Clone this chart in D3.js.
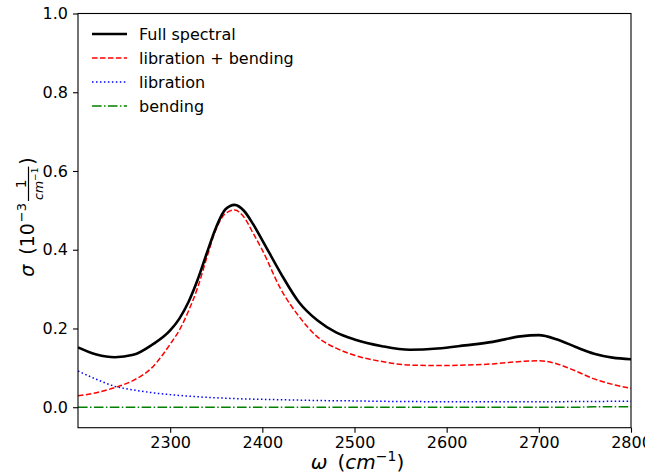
<!DOCTYPE html>
<html><head><meta charset="utf-8">
<script src="https://cdn.jsdelivr.net/npm/d3@7"></script>
<style>
body{margin:0;background:#fff;}
svg{display:block;font-family:"DejaVu Sans",sans-serif;}
</style></head>
<body>
<svg id="chart" width="645" height="475"></svg>
<script>
const omega = [2200,2220,2240,2260,2280,2300,2310,2320,2330,2340,2350,2360,2370,2380,2390,2400,2420,2440,2460,2480,2500,2530,2560,2590,2620,2650,2680,2700,2720,2740,2760,2780,2800];
const fullSpectral = [0.152,0.134,0.127,0.133,0.158,0.195,0.225,0.268,0.325,0.393,0.458,0.503,0.514,0.499,0.465,0.424,0.340,0.266,0.220,0.190,0.172,0.155,0.146,0.149,0.157,0.166,0.180,0.183,0.172,0.153,0.136,0.126,0.122];
const librationBending = [0.029,0.037,0.050,0.068,0.100,0.160,0.196,0.245,0.305,0.382,0.453,0.492,0.501,0.483,0.442,0.399,0.300,0.230,0.178,0.150,0.132,0.116,0.107,0.106,0.107,0.110,0.116,0.118,0.110,0.092,0.072,0.058,0.048];
const libration = [0.092,0.071,0.053,0.044,0.037,0.032,0.030,0.028,0.0265,0.025,0.024,0.023,0.022,0.021,0.0205,0.020,0.019,0.018,0.017,0.0165,0.016,0.015,0.0145,0.014,0.014,0.014,0.014,0.014,0.014,0.0145,0.0145,0.015,0.015];
const bending = [0,0,0,0,0,0,0,0,0,0,0,0,0,0,0,0,0,0,0,0,0,0,0,0,0,0,0,0,0,0,0.001,0.001,0.001];
const xTicks = [2300,2400,2500,2600,2700,2800];
const yTicks = [0.0,0.2,0.4,0.6,0.8,1.0];
const seriesNames = ["Full spectral","libration + bending","libration","bending"];

const svg = d3.select("#chart");
const L=78, R=631, T=13.5, B=427.7;
const x = d3.scaleLinear().domain([2200,2800]).range([L,R]);
const y = d3.scaleLinear().domain([-0.052,1.0]).range([B,T]);

const styles = [
  {color:"#000000", width:2.6, dash:null},
  {color:"#ff0000", width:1.5, dash:"5.55,2.4"},
  {color:"#0000ff", width:1.5, dash:"1.5,2.475"},
  {color:"#008000", width:1.5, dash:"9.6,2.4,1.5,2.4"}
];
const seriesData = [fullSpectral, librationBending, libration, bending];

svg.append("defs").append("clipPath").attr("id","clip")
  .append("rect").attr("x",L).attr("y",T).attr("width",R-L).attr("height",B-T);

const line = d3.line().x(d=>x(d[0])).y(d=>y(d[1])).curve(d3.curveMonotoneX);
const g = svg.append("g").attr("clip-path","url(#clip)");
[3,2,1,0].forEach(i=>{
  g.append("path").datum(omega.map((w,j)=>[w,seriesData[i][j]]))
    .attr("d",line).attr("fill","none")
    .attr("stroke",styles[i].color).attr("stroke-width",styles[i].width)
    .attr("stroke-dasharray",styles[i].dash)
    .attr("stroke-linejoin","round");
});

// axes
const xAxis = svg.append("g").attr("transform",`translate(0,${B})`)
  .call(d3.axisBottom(x).tickValues(xTicks).tickSize(5).tickPadding(4).tickFormat(d3.format("d")));
const yAxis = svg.append("g").attr("transform",`translate(${L},0)`)
  .call(d3.axisLeft(y).tickValues(yTicks).tickSize(5).tickPadding(5).tickFormat(d3.format(".1f")));
[xAxis,yAxis].forEach(a=>{
  a.select(".domain").remove();
  a.selectAll("text").attr("font-size",16).attr("font-family","DejaVu Sans").attr("fill","#000");
  a.selectAll("line").attr("stroke","#000").attr("stroke-width",1.1);
});

// frame
svg.append("rect").attr("x",L).attr("y",T).attr("width",R-L).attr("height",B-T)
  .attr("fill","none").attr("stroke","#000").attr("stroke-width",1.1);

// legend
const lg = svg.append("g");
seriesNames.forEach((n,i)=>{
  const yy = 34 + i*24;
  lg.append("line").attr("x1",92).attr("x2",127).attr("y1",yy).attr("y2",yy)
    .attr("stroke",styles[i].color).attr("stroke-width",styles[i].width)
    .attr("stroke-dasharray",styles[i].dash);
  lg.append("text").attr("x",139).attr("y",yy+5.5).attr("font-size",16).attr("fill","#000").text(n);
});

// x label
const xl = svg.append("text").attr("y",469).attr("font-size",20).attr("fill","#000");
xl.append("tspan").attr("font-style","italic").text("ω");
xl.append("tspan").text("\u2002(");
xl.append("tspan").attr("font-style","italic").text("cm");
xl.append("tspan").attr("font-size",14).attr("dy",-8).text("\u22121");
xl.append("tspan").attr("dy",8).text(")");
const xlw = xl.node().getComputedTextLength();
xl.attr("x", (L+R)/2 - xlw/2 + 3);

// y label (rotated)
const yl = svg.append("g");
let u = 0;
function put(txt, size, opts={}){
  const t = yl.append("text").attr("x",u).attr("y",opts.dy||0).attr("font-size",size).attr("fill","#000")
    .attr("font-style",opts.italic?"italic":null).text(txt);
  const w = t.node().getComputedTextLength();
  return {t,w};
}
let r = put("σ",19,{italic:true}); u += r.w + 10;
r = put("(10",19); u += r.w + 1;
r = put("\u22123",13,{dy:-8}); u += r.w + 2;
// fraction
const numer = yl.append("text").attr("font-size",14).attr("fill","#000").attr("y",-8).text("1");
const den = yl.append("text").attr("font-size",12.5).attr("fill","#000").attr("y",8.5);
den.append("tspan").attr("font-style","italic").text("cm");
den.append("tspan").attr("font-size",9).attr("dy",-4.5).text("\u22121");
const nw = numer.node().getComputedTextLength(), dw = den.node().getComputedTextLength();
const fw = Math.max(nw,dw)+2;
numer.attr("x", u + fw/2 - nw/2);
den.attr("x", u + fw/2 - dw/2);
yl.append("line").attr("x1",u).attr("x2",u+fw).attr("y1",-5.5).attr("y2",-5.5).attr("stroke","#000").attr("stroke-width",1.2);
u += fw + 2;
r = put(")",19); u += r.w;
yl.attr("transform",`translate(34,${217 + u/2}) rotate(-90)`);
</script>
</body></html>
